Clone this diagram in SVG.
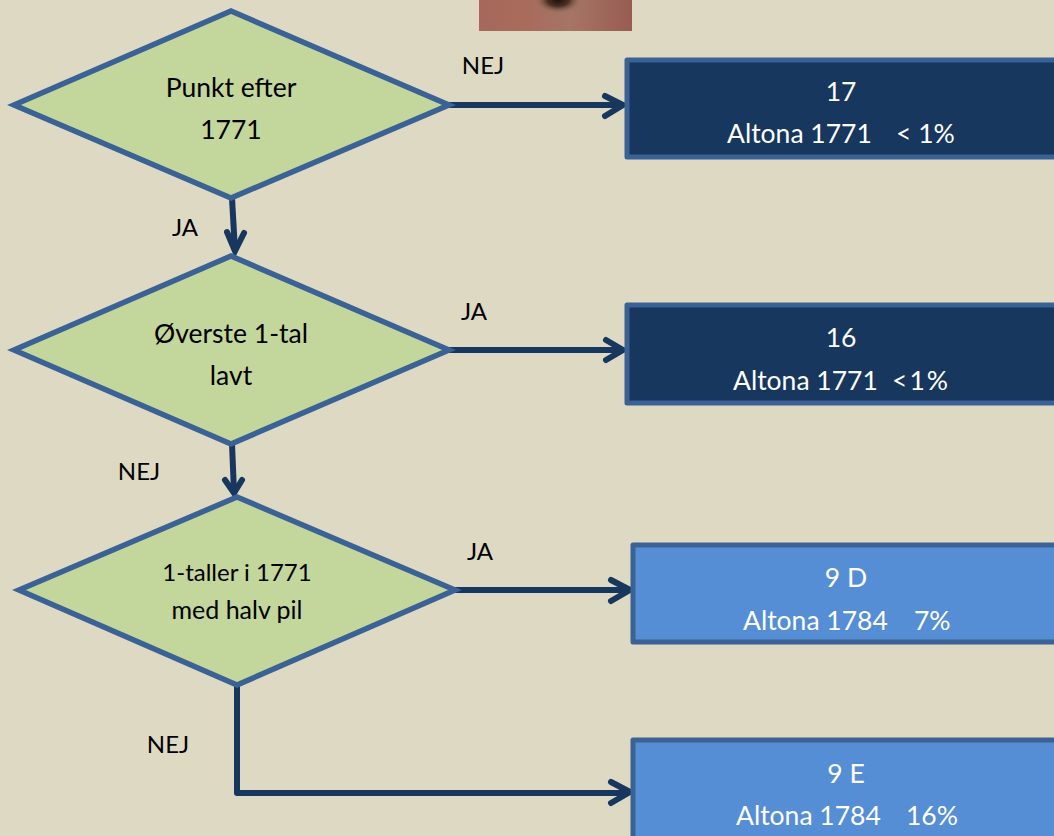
<svg xmlns="http://www.w3.org/2000/svg" width="1054" height="836" viewBox="0 0 1054 836">
<style>
.d{fill:#c3d69b;stroke:#3a6294;stroke-width:5.5;stroke-linejoin:miter}
.b{stroke:#3a6294;stroke-width:5;stroke-linejoin:round}
.n{fill:#17375e}.l{fill:#558ed5}
.c{fill:none;stroke:#17375e;stroke-width:6;stroke-linejoin:round}
.h{fill:none;stroke:#17375e;stroke-width:6;stroke-linecap:round;stroke-linejoin:miter}
text{font-family:"Lato","Liberation Sans",sans-serif;font-size:24px}
.k{fill:#000;text-anchor:middle}
.t{fill:#000;text-anchor:middle;font-size:26.5px}
.s{fill:#000;text-anchor:middle;font-size:24px}
.s2{fill:#000;text-anchor:middle;font-size:25px}
.w{fill:#fff;text-anchor:middle;font-size:26.5px}
.x{fill:#fff;font-size:26.5px}
</style>
<defs>
<linearGradient id="ph" x1="0" y1="0" x2="1" y2="0"><stop offset="0" stop-color="#a5685a"/><stop offset=".3" stop-color="#a86b5c"/><stop offset=".6" stop-color="#a57565"/><stop offset="1" stop-color="#985c52"/></linearGradient>
<radialGradient id="sp"><stop offset="0" stop-color="#20100c"/><stop offset=".45" stop-color="#4a3024"/><stop offset="1" stop-color="#9a7a66" stop-opacity="0"/></radialGradient>
</defs>
<rect width="1054" height="836" fill="#ddd9c3"/>
<g id="photo"><rect x="479" y="0" width="153" height="31" fill="url(#ph)"/><ellipse cx="558" cy="0" rx="24" ry="14" fill="url(#sp)"/></g>
<g id="connectors">
<path class="c" d="M449 105H622"/><path class="h" d="M605 96L623 105L605 116"/>
<path class="c" d="M232 198L235 251"/><path class="h" d="M227 232L235 251L244 233"/>
<path class="c" d="M449 350H622"/><path class="h" d="M606 340L623 350L606 360"/>
<path class="c" d="M232 444L234 492"/><path class="h" d="M225 480L234 493L242 480"/>
<path class="c" d="M455 590H629"/><path class="h" d="M611 580L630 590L611 601"/>
<path class="c" d="M237 685V793H629"/><path class="h" d="M611 782L630 792L611 803"/>
</g>
<g id="d1"><polygon class="d" points="231,11 449,105 231,198 14,105"/><text class="t" x="231" y="97">Punkt efter</text><text class="t" x="231" y="139">1771</text></g>
<g id="d2"><polygon class="d" points="231,256 449,350 231,444 14,350"/><text class="t" x="231" y="343">Øverste 1-tal</text><text class="t" x="231" y="385">lavt</text></g>
<g id="d3"><polygon class="d" points="237,497 455,590 237,685 19,590"/><text class="s" x="237" y="581">1-taller i 1771</text><text class="s2" x="237" y="619">med halv pil</text></g>
<g id="b1"><rect class="b n" x="627" y="60" width="440" height="97"/><text class="w" x="841" y="101">17</text><text class="x" x="727" y="143">Altona 1771</text><text class="x" x="896" y="143">&lt; 1%</text></g>
<g id="b2"><rect class="b n" x="627" y="305" width="440" height="98"/><text class="w" x="841" y="347">16</text><text class="x" x="733" y="390">Altona 1771</text><text class="x" x="892" y="390" textLength="56">&lt;1%</text></g>
<g id="b3"><rect class="b l" x="633" y="545" width="440" height="97"/><text class="w" x="846" y="587">9 D</text><text class="x" x="743" y="630">Altona 1784</text><text class="x" x="914" y="630">7%</text></g>
<g id="b4"><rect class="b l" x="633" y="740" width="440" height="110"/><text class="w" x="846" y="783">9 E</text><text class="x" x="736" y="825">Altona 1784</text><text class="x" x="906" y="825">16%</text></g>
<g id="labels">
<text class="k" x="483" y="74">NEJ</text>
<text class="k" x="185" y="236">JA</text>
<text class="k" x="474" y="320">JA</text>
<text class="k" x="139" y="480">NEJ</text>
<text class="k" x="480" y="560">JA</text>
<text class="k" x="168" y="753">NEJ</text>
</g>
</svg>
